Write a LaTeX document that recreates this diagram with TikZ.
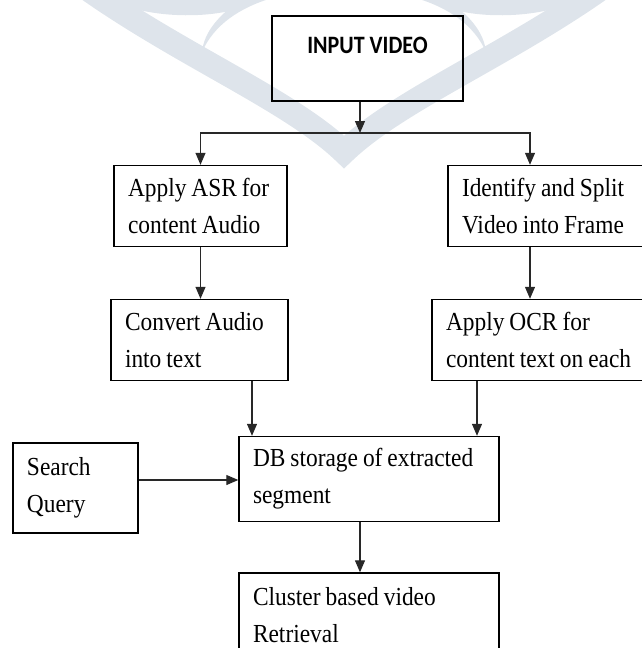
\documentclass[tikz,border=0pt]{standalone}
\usepackage{fontspec}
\setmainfont{Liberation Serif}[FakeStretch=0.9,WordSpace=0.85]
\newfontfamily\headfont{Carlito}[FakeStretch=0.88]
\usetikzlibrary{arrows.meta}
\definecolor{wmark}{RGB}{222,228,235}
\definecolor{linegray}{RGB}{40,40,40}

\begin{document}
\begin{tikzpicture}[x=1pt,y=-1pt,
    box/.style={draw=black,line width=1.4pt,rectangle,align=flush left,inner xsep=14pt,
      font=\fontsize{26}{37}\selectfont},
    arr/.style={draw=linegray,line width=1.2pt,-{Triangle[length=12pt,width=10pt]}}]
  \useasboundingbox (0,0) rectangle (642,648);
  \clip (0,0) rectangle (642,648);
  % watermark in the background
  \draw[wmark,line width=24pt,line join=miter] (82,-15) .. controls (180,55) and (290,100) .. (344,152)
    .. controls (398,100) and (508,55) .. (606,-15);
  \foreach \s in {1,-1} {
    \begin{scope}[shift={(344,0)},xscale=\s]
      \fill[wmark] (-142,52) .. controls (-130,25) and (-105,8) .. (-72,-2) -- (-100,-2)
        .. controls (-125,14) and (-140,32) .. cycle;
      \fill[wmark] (-236,-2) .. controls (-200,20) and (-118,22) .. (-80,-2) -- cycle;
    \end{scope}
  }
  % boxes
  \node[box,align=center,minimum width=191pt,inner ysep=10pt,text height=27.5pt,text depth=37.5pt,
    font=\headfont\bfseries\fontsize{25}{28}\selectfont] (input) at (367.5,58.5) {INPUT VIDEO};
  \node[box,text width=145pt,minimum height=81pt] (asr) at (200.5,206) {Apply ASR for\\content Audio};
  \node[box,text width=196pt,minimum height=81pt] (ident) at (560,206) {Identify and Split\\Video into Frame};
  \node[box,text width=149pt,minimum height=81pt] (conv) at (199.5,340) {Convert Audio\\into text};
  \node[box,text width=212pt,minimum height=81pt] (ocr) at (552,340) {Apply OCR for\\content text on each};
  \node[box,text width=97pt,minimum height=90pt] (search) at (75.5,488) {Search\\Query};
  \node[box,text width=232pt,minimum height=85pt] (db) at (369,479) {DB storage of extracted\\segment};
  \node[box,text width=232pt,minimum height=84pt] (clus) at (369,615) {Cluster based video\\Retrieval};
  % connectors
  \coordinate (split) at (360,133);
  \coordinate (rsplit) at (530,133);
  \coordinate (dbl) at (252,0);
  \coordinate (dbr) at (477,0);
  \coordinate (qy) at (0,480);
  \coordinate (dbo) at (360,0);
  \draw[arr] (split |- input.south) -- (split);
  \draw[arr] (split) -| (asr.north);
  \draw[arr] (split) -- (rsplit) -- (rsplit |- ident.north);
  \draw[arr] (asr.south) -- (asr.south |- conv.north);
  \draw[arr] (rsplit |- ident.south) -- (rsplit |- ocr.north);
  \draw[arr] (dbl |- conv.south) -- (dbl |- db.north);
  \draw[arr] (dbr |- ocr.south) -- (dbr |- db.north);
  \draw[arr] (qy -| search.east) -- (qy -| db.west);
  \draw[arr] (dbo |- db.south) -- (dbo |- clus.north);
\end{tikzpicture}
\end{document}
